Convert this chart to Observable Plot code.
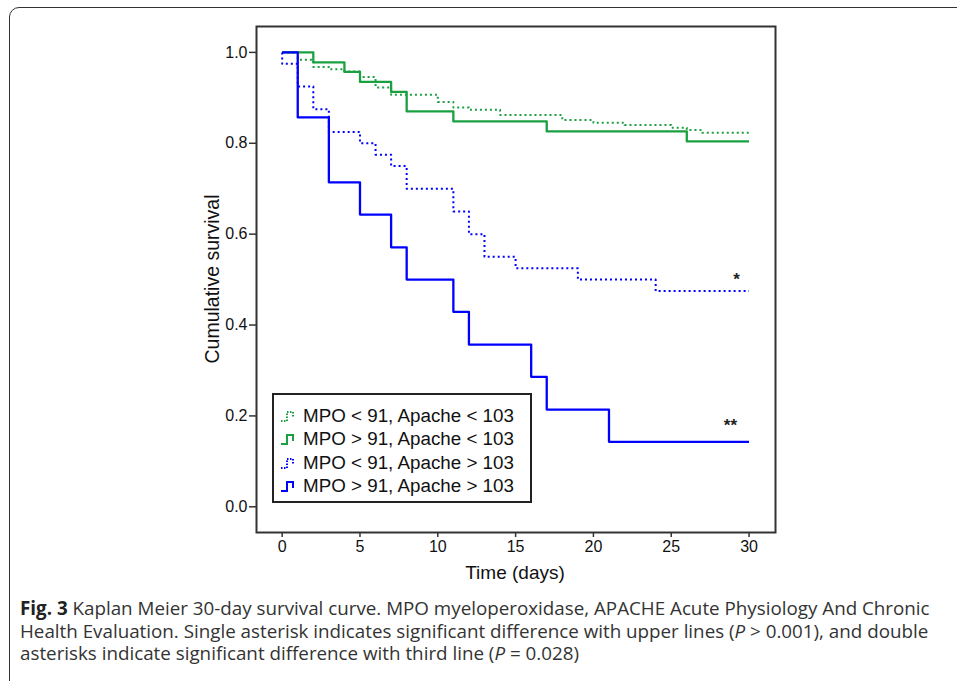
<!DOCTYPE html>
<html><head><meta charset="utf-8">
<script src="https://cdn.jsdelivr.net/npm/d3@7"></script>
<script src="https://cdn.jsdelivr.net/npm/@observablehq/plot@0.6"></script>
<style>
body{margin:0;background:#fff;font-family:Arial,"Liberation Sans",sans-serif;}
#wrap{position:relative;width:957px;height:681px;overflow:hidden;background:#fff;}
#border{position:absolute;left:9px;top:7px;width:1000px;height:720px;border:1.5px solid #333;border-radius:10px;}
#chart{position:absolute;left:0;top:0;}
.axt{position:absolute;font-size:19px;color:#111;white-space:nowrap;}
#xt{left:515px;top:573px;transform:translate(-50%,-50%);}
#yt{left:212px;top:279px;transform:translate(-50%,-50%) rotate(-90deg);font-size:19.5px;}
#legend{position:absolute;left:272px;top:393px;width:260px;height:110px;border:2px solid #222;background:#fff;box-sizing:border-box;}
.row{position:absolute;left:6px;height:22px;display:flex;align-items:center;font-size:18.8px;color:#111;white-space:nowrap;}
.row svg{margin-right:5px;}
#caption{position:absolute;left:20px;top:597px;font-family:"Open Sans","Noto Sans",sans-serif;font-size:18.8px;line-height:22.7px;color:#333;white-space:nowrap;}
#caption div{height:22.7px;}
#caption b{color:#222;}
</style></head>
<body>
<div id="wrap">
  <div id="border"></div>
  <div id="chart"></div>
  <div class="axt" id="xt">Time (days)</div>
  <div class="axt" id="yt">Cumulative survival</div>
  <div id="legend"></div>
  <div id="caption">
    <div><b>Fig. 3</b> Kaplan Meier 30-day survival curve. MPO myeloperoxidase, APACHE Acute Physiology And Chronic</div>
    <div>Health Evaluation. Single asterisk indicates significant difference with upper lines (<i>P</i> &gt; 0.001), and double</div>
    <div>asterisks indicate significant difference with third line (<i>P</i> = 0.028)</div>
  </div>
</div>
<script>
// Series (Kaplan–Meier step points)
const seriesNames = ["MPO < 91, Apache < 103", "MPO > 91, Apache < 103", "MPO < 91, Apache > 103", "MPO > 91, Apache > 103"];
const seriesColors = ["#1aa040", "#1aa040", "#0000ff", "#0000ff"];
const seriesDotted = [true, false, true, false];

const greenDottedTime = [0, 1, 2, 3, 4, 5, 6, 7, 10, 11, 12, 14, 18, 20, 22, 25, 26, 27, 30];
const greenDottedSurv = [1, 0.984, 0.968, 0.963, 0.958, 0.946, 0.923, 0.907, 0.891, 0.879, 0.874, 0.862, 0.851, 0.845, 0.840, 0.834, 0.829, 0.823, 0.823];

const greenSolidTime = [0, 2, 4, 5, 7, 8, 11, 17, 26, 30];
const greenSolidSurv = [1, 0.978, 0.957, 0.935, 0.913, 0.870, 0.848, 0.826, 0.804, 0.804];

const blueDottedTime = [0, 0, 1, 2, 3, 5, 6, 7, 8, 11, 12, 13, 15, 19, 24, 30];
const blueDottedSurv = [1, 0.975, 0.925, 0.875, 0.825, 0.800, 0.775, 0.750, 0.700, 0.650, 0.600, 0.550, 0.525, 0.500, 0.475, 0.475];

const blueSolidTime = [0, 1, 3, 5, 7, 8, 11, 12, 16, 17, 21, 30];
const blueSolidSurv = [1, 0.857, 0.714, 0.643, 0.571, 0.500, 0.429, 0.357, 0.286, 0.214, 0.143, 0.143];

const xTicks = [0, 5, 10, 15, 20, 25, 30];
const yTicks = [0, 0.2, 0.4, 0.6, 0.8, 1.0];

const noteText = ["*", "**"];
const noteTime = [29.2, 28.8];
const noteSurv = [0.50, 0.178];

const allTimes = [greenDottedTime, greenSolidTime, blueDottedTime, blueSolidTime];
const allSurv = [greenDottedSurv, greenSolidSurv, blueDottedSurv, blueSolidSurv];
const series = allTimes.map((ts, i) => ts.map((t, j) => ({t, s: allSurv[i][j], name: seriesNames[i]})));
const notes = noteText.map((txt, i) => ({txt, t: noteTime[i], s: noteSurv[i]}));

const lineMarks = series.map((d, i) => Plot.line(d, {
  x: "t", y: "s", curve: "step-after",
  stroke: seriesColors[i],
  strokeWidth: seriesDotted[i] ? 2 : 2.3,
  strokeDasharray: seriesDotted[i] ? "2,3" : null,
  strokeLinecap: "butt"
}));

const plot = Plot.plot({
  width: 957, height: 600,
  marginLeft: 256, marginRight: 182, marginTop: 26, marginBottom: 68,
  x: {domain: [-1.65, 31.7]},
  y: {domain: [-0.0566, 1.057]},
  style: {fontFamily: "Arial, 'Liberation Sans', sans-serif", fontSize: "16px", color: "#111", background: "transparent"},
  marks: [
    Plot.axisX({ticks: xTicks, tickSize: 5, tickPadding: 3, label: null, stroke: "#333", strokeWidth: 1.5, fontSize: 16}),
    Plot.axisY({ticks: yTicks, tickSize: 7, tickPadding: 2, tickFormat: d3.format(".1f"), label: null, stroke: "#333", strokeWidth: 1.5, fontSize: 16}),
    ...lineMarks,
    Plot.text(notes, {x: "t", y: "s", text: "txt", fontWeight: "bold", fill: "#222", fontSize: 17}),
    Plot.frame({stroke: "#333", strokeWidth: 2})
  ]
});
document.getElementById("chart").appendChild(plot);
// enforce label font sizes inline
d3.select(plot).selectAll("text").each(function() {
  const t = this.textContent;
  const sz = (t === "*" || t === "**") ? "17px" : "16px";
  this.style.fontSize = sz;
  this.setAttribute("font-size", sz);
});

// Legend
const legend = document.getElementById("legend");
const rowTops = [10, 33, 57, 80];
seriesNames.forEach((name, i) => {
  const row = document.createElement("div");
  row.className = "row";
  row.style.top = rowTops[i] + "px";
  const dash = seriesDotted[i] ? 'stroke-dasharray="1.5,1.5"' : '';
  row.innerHTML = `<svg width="18" height="14"><path d="M1,12H7V3H13V9" fill="none" stroke="${seriesColors[i]}" stroke-width="2" ${dash}/></svg>`;
  const span = document.createElement("span");
  span.textContent = name;
  row.appendChild(span);
  legend.appendChild(row);
});
</script>
</body></html>
